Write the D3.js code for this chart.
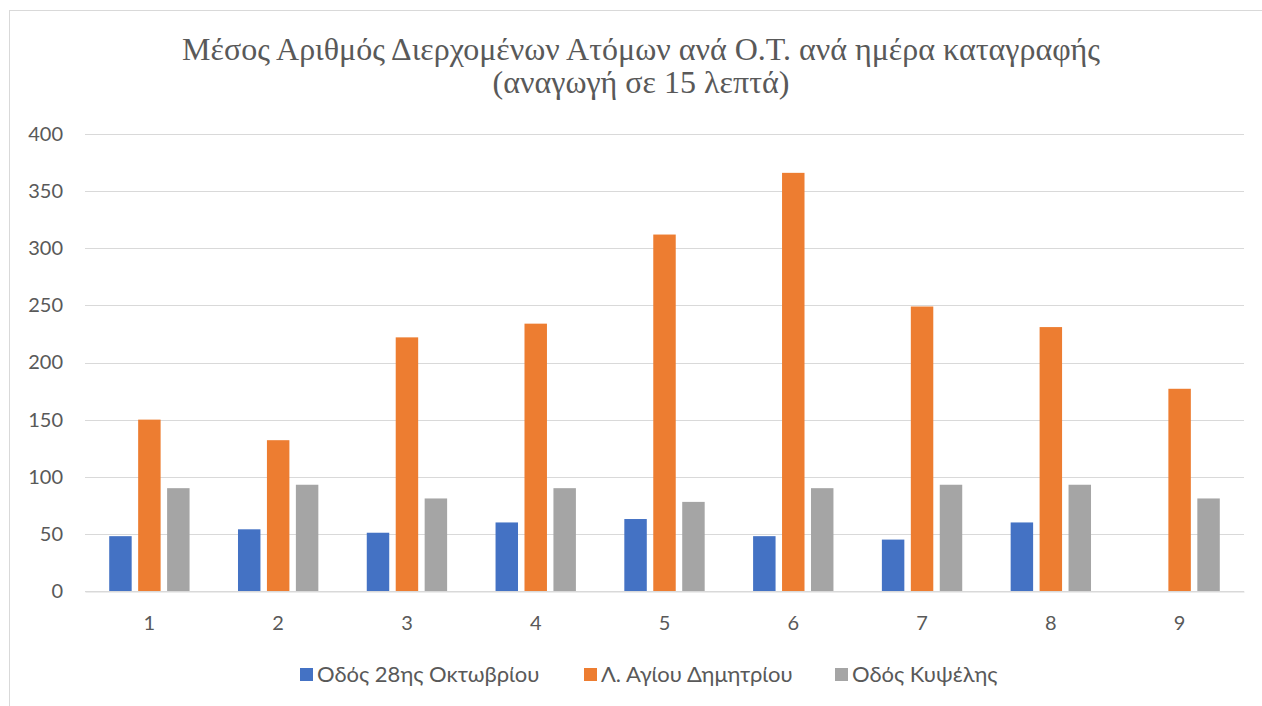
<!DOCTYPE html>
<html>
<head>
<meta charset="utf-8">
<script src="https://cdn.jsdelivr.net/npm/d3@7"></script>
<style>
  body { margin: 0; background: #fff; }
  svg { display: block; }
</style>
</head>
<body>
<div id="chart"></div>
<script>
// Data
const categories = ["1", "2", "3", "4", "5", "6", "7", "8", "9"];
const seriesNames = ["Οδός 28ης Οκτωβρίου", "Λ. Αγίου Δημητρίου", "Οδός Κυψέλης"];
const octovriou = [48, 54, 51, 60, 63, 48, 45, 60, null];
const dimitriou = [150, 132, 222, 234, 312, 366, 249, 231, 177];
const kypselis = [90, 93, 81, 90, 78, 90, 93, 93, 81];
const yTicks = [0, 50, 100, 150, 200, 250, 300, 350, 400];
const titleLines = ["Μέσος Αριθμός Διερχομένων Ατόμων ανά Ο.Τ. ανά ημέρα καταγραφής", "(αναγωγή σε 15 λεπτά)"];

const colors = ["#4472C4", "#ED7D31", "#A5A5A5"];
const width = 1262;
const height = 706;
const plot = { left: 85, right: 1244, top: 134, bottom: 591 };

const svg = d3.select("#chart").append("svg")
    .attr("width", width)
    .attr("height", height);

// Chart border
svg.append("rect")
    .attr("x", 9.5)
    .attr("y", 10.5)
    .attr("width", 1300)
    .attr("height", 800)
    .attr("fill", "#fff")
    .attr("stroke", "#d9d9d9")
    .attr("stroke-width", 1);

// Title
svg.append("text")
    .attr("x", 641)
    .attr("y", 60)
    .attr("text-anchor", "middle")
    .style("font-family", "'Liberation Serif', 'Times New Roman', serif")
    .style("font-size", "32px")
    .attr("fill", "#595959")
    .selectAll("tspan")
    .data(titleLines)
    .enter()
    .append("tspan")
    .attr("x", 641)
    .attr("dy", (d, i) => i === 0 ? 0 : 33)
    .text(d => d);

// Scales
const y = d3.scaleLinear()
    .domain([0, 400])
    .range([plot.bottom, plot.top]);

const x0 = d3.scaleBand()
    .domain(categories)
    .range([plot.left, plot.right])
    .paddingInner(0.376)
    .paddingOuter(0.188);

const x1 = d3.scaleBand()
    .domain(d3.range(seriesNames.length))
    .range([0, x0.bandwidth()])
    .paddingInner(0.224)
    .paddingOuter(0);

// Gridlines
svg.append("g")
    .selectAll("line")
    .data(yTicks)
    .enter()
    .append("line")
    .attr("x1", plot.left)
    .attr("x2", plot.right)
    .attr("y1", d => Math.round(y(d)) + 0.5)
    .attr("y2", d => Math.round(y(d)) + 0.5)
    .attr("stroke", "#d9d9d9")
    .attr("stroke-width", 1);

// Y axis labels
const yAxis = svg.append("g")
    .attr("transform", `translate(${plot.left - 22},0)`)
    .call(d3.axisLeft(y).tickValues(yTicks).tickSize(0).tickPadding(0));
yAxis.select(".domain").remove();
yAxis.selectAll("text")
    .style("font-family", "Lato, Carlito, sans-serif")
    .style("font-size", "20px")
    .attr("fill", "#595959");

// Bars
const series = [octovriou, dimitriou, kypselis];
const groups = svg.append("g")
    .selectAll("g")
    .data(categories)
    .enter()
    .append("g")
    .attr("transform", d => `translate(${x0(d)},0)`);

groups.selectAll("rect")
    .data((d, i) => series.map((s, k) => ({ k, v: s[i] })).filter(e => e.v != null))
    .enter()
    .append("rect")
    .attr("x", d => x1(d.k))
    .attr("width", x1.bandwidth())
    .attr("y", d => y(d.v))
    .attr("height", d => y(0) - y(d.v))
    .attr("fill", d => colors[d.k]);

// X axis
const xAxis = svg.append("g")
    .attr("transform", `translate(0,${Math.round(y(0)) + 0.5})`)
    .call(d3.axisBottom(x0).tickSize(0).tickPadding(24));
xAxis.select(".domain")
    .attr("stroke", "#d9d9d9")
    .attr("stroke-width", 1);
xAxis.selectAll("text")
    .style("font-family", "Lato, Carlito, sans-serif")
    .style("font-size", "20px")
    .attr("fill", "#595959");

// Legend
const legendX = [300, 584, 835];
const legend = svg.append("g")
    .selectAll("g")
    .data(seriesNames)
    .enter()
    .append("g")
    .attr("transform", (d, i) => `translate(${legendX[i]},668)`);

legend.append("rect")
    .attr("width", 13)
    .attr("height", 13)
    .attr("fill", (d, i) => colors[i]);

legend.append("text")
    .attr("x", 17)
    .attr("y", 14)
    .style("font-family", "Lato, Carlito, sans-serif")
    .style("font-size", "22px")
    .attr("fill", "#595959")
    .text(d => d);
</script>
</body>
</html>
